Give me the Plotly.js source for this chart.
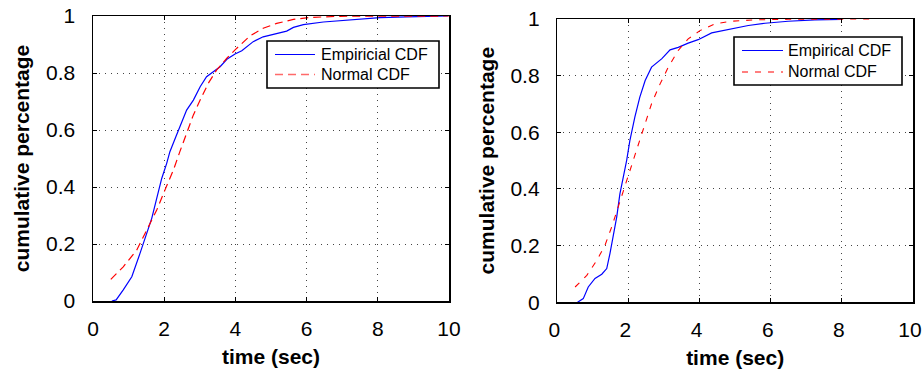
<!DOCTYPE html>
<html>
<head>
<meta charset="utf-8">
<script src="https://cdn.plot.ly/plotly-3.0.1.min.js"></script>
<style>html,body{margin:0;padding:0;background:#fff;}#chart{width:923px;height:376px;}</style>
</head>
<body>
<div id="chart"></div>
<script>
// Left panel
const leftEmpX = [0.53, 0.65, 0.85, 1.09, 1.32, 1.51, 1.65, 1.79, 1.93, 2.07, 2.16, 2.33, 2.44, 2.63, 2.82, 3.01, 3.19, 3.43, 3.57, 3.76, 3.99, 4.18, 4.5, 4.78, 5.16, 5.44, 5.63, 5.91, 6.47, 7.31, 8.06, 8.81, 9.97];
const leftEmpY = [0, 0.004, 0.039, 0.085, 0.167, 0.237, 0.29, 0.36, 0.43, 0.483, 0.524, 0.577, 0.612, 0.67, 0.705, 0.752, 0.787, 0.81, 0.822, 0.848, 0.867, 0.878, 0.91, 0.927, 0.939, 0.947, 0.96, 0.97, 0.979, 0.988, 0.994, 0.997, 1.0];
const leftNormX = [0.5, 0.85, 1.23, 1.51, 1.79, 2.02, 2.26, 2.44, 2.63, 2.82, 3.01, 3.24, 3.47, 3.76, 4.04, 4.41, 4.78, 5.16, 5.63, 6.1, 6.94, 8.34, 10];
const leftNormY = [0.076, 0.12, 0.179, 0.249, 0.319, 0.389, 0.46, 0.524, 0.588, 0.653, 0.705, 0.764, 0.81, 0.852, 0.887, 0.93, 0.957, 0.974, 0.988, 0.995, 0.999, 1.0, 1.0];
// Right panel
const rightEmpX = [0.57, 0.73, 0.87, 1.06, 1.25, 1.39, 1.48, 1.57, 1.67, 1.76, 1.86, 1.95, 2.04, 2.18, 2.32, 2.47, 2.65, 2.94, 3.17, 3.40, 3.68, 3.96, 4.34, 4.81, 5.37, 5.84, 6.49, 7.24, 8.0];
const rightEmpY = [0, 0.013, 0.054, 0.084, 0.099, 0.119, 0.172, 0.23, 0.301, 0.383, 0.442, 0.501, 0.571, 0.654, 0.724, 0.783, 0.83, 0.86, 0.891, 0.9, 0.915, 0.927, 0.951, 0.962, 0.977, 0.985, 0.992, 0.997, 0.999];
const rightNormX = [0.5, 0.83, 1.11, 1.34, 1.53, 1.71, 1.9, 2.09, 2.28, 2.47, 2.65, 2.89, 3.12, 3.40, 3.68, 4.01, 4.43, 4.9, 5.56, 6.49, 8.79];
const rightNormY = [0.054, 0.095, 0.148, 0.201, 0.266, 0.336, 0.407, 0.489, 0.56, 0.63, 0.701, 0.771, 0.83, 0.889, 0.93, 0.959, 0.983, 0.992, 0.997, 0.999, 1.0];
// Labels and ticks
const xTickVals = [0, 2, 4, 6, 8, 10];
const yTickVals = [0, 0.2, 0.4, 0.6, 0.8, 1];
const yTickText = ['0', '0.2', '0.4', '0.6', '0.8', '1'];
const xTitle = 'time (sec)';
const yTitle = 'cumulative percentage';
const leftNames = ['Empiricial CDF', 'Normal CDF'];
const rightNames = ['Empirical CDF', 'Normal CDF'];

const FONT = 'Liberation Sans, Arial, sans-serif';
const W = 923, H = 376;
const BLUE = '#0000ff', RED = '#ff0000';
const leftDash = '8px,5px', rightDash = '6px,7px';

const traces = [
  {x: leftEmpX, y: leftEmpY, xaxis: 'x', yaxis: 'y', mode: 'lines', name: leftNames[0],
   line: {color: BLUE, width: 1.2}},
  {x: leftNormX, y: leftNormY, xaxis: 'x', yaxis: 'y', mode: 'lines', name: leftNames[1],
   line: {color: RED, width: 1.2, dash: leftDash}},
  {x: rightEmpX, y: rightEmpY, xaxis: 'x2', yaxis: 'y2', mode: 'lines', name: rightNames[0],
   line: {color: BLUE, width: 1.2}},
  {x: rightNormX, y: rightNormY, xaxis: 'x2', yaxis: 'y2', mode: 'lines', name: rightNames[1],
   line: {color: RED, width: 1.1, dash: rightDash}}
];

function xAxis(domain, anchor, shift) {
  return {
    domain: domain, anchor: anchor, range: [0, 10], tickvals: xTickVals,
    showline: true, linecolor: '#000', linewidth: 1.5, mirror: 'ticks',
    ticks: 'inside', ticklen: 4, tickwidth: 1, tickcolor: '#000',
    showgrid: true, gridcolor: '#444', gridwidth: 1, griddash: '1px,5px',
    zeroline: false, ticklabelstandoff: 8, ticklabeloverflow: 'allow', ticklabelshift: shift,
    tickfont: {family: FONT, size: 21, color: '#000'},
    title: {text: xTitle, font: {family: FONT, size: 21, color: '#000', weight: 'bold'}, standoff: 10},
    automargin: false, fixedrange: true
  };
}
function yAxis(domain, anchor) {
  return {
    domain: domain, anchor: anchor, range: [0, 1], tickvals: yTickVals, ticktext: yTickText,
    showline: true, linecolor: '#000', linewidth: 1.5, mirror: 'ticks',
    ticks: 'inside', ticklen: 4, tickwidth: 1, tickcolor: '#000',
    showgrid: true, gridcolor: '#444', gridwidth: 1, griddash: '1px,5px',
    zeroline: false, ticklabelstandoff: 12, ticklabeloverflow: 'allow',
    tickfont: {family: FONT, size: 21, color: '#000'},
    title: {text: yTitle, font: {family: FONT, size: 21, color: '#000', weight: 'bold'}, standoff: 10},
    automargin: false, fixedrange: true
  };
}

// Legend boxes drawn in paper space (pixel positions converted to paper fractions)
function legendParts(box, lineX0, lineX1, rowY, textX, names, redColor, redWidth, dash) {
  const px = v => v / W, py = v => 1 - v / H;
  const shapes = [
    {type: 'rect', xref: 'paper', yref: 'paper', x0: px(box[0]), x1: px(box[1]), y0: py(box[3]), y1: py(box[2]),
     line: {color: '#000', width: 1.6}, fillcolor: '#fff', layer: 'above'},
    {type: 'line', xref: 'paper', yref: 'paper', x0: px(lineX0), x1: px(lineX1), y0: py(rowY[0]), y1: py(rowY[0]),
     line: {color: BLUE, width: 1.2}, layer: 'above'},
    {type: 'line', xref: 'paper', yref: 'paper', x0: px(lineX0), x1: px(lineX1), y0: py(rowY[1]), y1: py(rowY[1]),
     line: {color: redColor, width: redWidth, dash: dash}, layer: 'above'}
  ];
  const annotations = names.map((n, i) => ({
    xref: 'paper', yref: 'paper', x: px(textX), y: py(rowY[i]), xanchor: 'left', yanchor: 'middle',
    text: n, showarrow: false, borderpad: 0, font: {family: FONT, size: 16, color: '#000'}
  }));
  return {shapes, annotations};
}
const legL = legendParts([267, 439, 41, 88], 275, 315, [54.5, 74.5], 320, leftNames, '#ff6a6a', 1.6, leftDash);
const legR = legendParts([734, 902, 37, 85], 742, 783, [50.5, 72], 787, rightNames, RED, 1.1, rightDash);

const layout = {
  width: W, height: H,
  margin: {l: 0, r: 0, t: 0, b: 0},
  paper_bgcolor: '#fff', plot_bgcolor: '#fff',
  font: {family: FONT, color: '#000'},
  showlegend: false,
  xaxis: xAxis([93 / W, 449 / W], 'y', 0),
  yaxis: yAxis([1 - 301 / H, 1 - 16 / H], 'x'),
  xaxis2: xAxis([557.3 / W, 913 / W], 'y2', -3),
  yaxis2: yAxis([1 - 302.3 / H, 1 - 19 / H], 'x2'),
  shapes: legL.shapes.concat(legR.shapes),
  annotations: legL.annotations.concat(legR.annotations)
};

Plotly.newPlot('chart', traces, layout, {staticPlot: true, displayModeBar: false});
</script>
</body>
</html>
